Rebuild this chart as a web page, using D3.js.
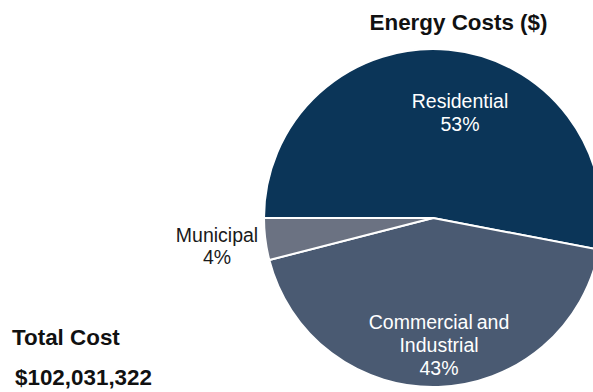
<!DOCTYPE html>
<html>
<head>
<meta charset="utf-8">
<script src="https://cdn.jsdelivr.net/npm/d3@7"></script>
<style>
  html, body { margin: 0; padding: 0; background: #fff; overflow: hidden; }
  svg { display: block; font-family: "Liberation Sans", Arial, sans-serif; }
</style>
</head>
<body>
<svg id="chart" width="593" height="392"></svg>
<script>
// Energy cost shares by sector
const sectors = ["Residential", "Commercial and Industrial", "Municipal"];
const shares = [53, 43, 4];
const labelLines = [["Residential", "53%"], ["Commercial\u2009and", "Industrial", "43%"], ["Municipal", "4%"]];
const colors = ["#0b3558", "#4a5a72", "#6b7282"];
const totalCost = "$102,031,322";

const svg = d3.select("#chart");
const cx = 433, cy = 218, r = 169;

const pie = d3.pie().sort(null).value(d => d)
  .startAngle(-Math.PI / 2).endAngle(1.5 * Math.PI);
const arcs = pie(shares);
const arc = d3.arc().innerRadius(0).outerRadius(r);

const g = svg.append("g").attr("transform", `translate(${cx},${cy})`);
g.selectAll("path").data(arcs).join("path")
  .attr("d", arc)
  .attr("fill", (d, i) => colors[i])
  .attr("stroke", "#fff")
  .attr("stroke-width", 2)
  .attr("stroke-linejoin", "round");

// label anchor positions (relative to pie centre)
const labelPos = [[27, -110], [6, 111], [-216, 24]];
const lineH = [22.5, 23, 21.5];
arcs.forEach((a, i) => {
  const lines = labelLines[i];
  const t = g.append("text")
    .attr("text-anchor", "middle")
    .attr("font-size", 19.5)
    .attr("fill", i === 2 ? "#1a1a1a" : "#fff");
  lines.forEach((ln, j) => {
    t.append("tspan")
      .attr("x", labelPos[i][0])
      .attr("y", labelPos[i][1] + j * lineH[i])
      .text(ln);
  });
});

svg.append("text")
  .attr("x", 458.5).attr("y", 30)
  .attr("text-anchor", "middle")
  .attr("font-size", 22.4).attr("font-weight", "bold").attr("fill", "#111")
  .text("Energy Costs ($)");

svg.append("text")
  .attr("x", 12).attr("y", 345)
  .attr("font-size", 22.4).attr("font-weight", "bold").attr("fill", "#111")
  .text("Total Cost");

svg.append("text")
  .attr("x", 15).attr("y", 385)
  .attr("font-size", 22.4).attr("font-weight", "bold").attr("fill", "#111")
  .text(totalCost);
</script>
</body>
</html>
